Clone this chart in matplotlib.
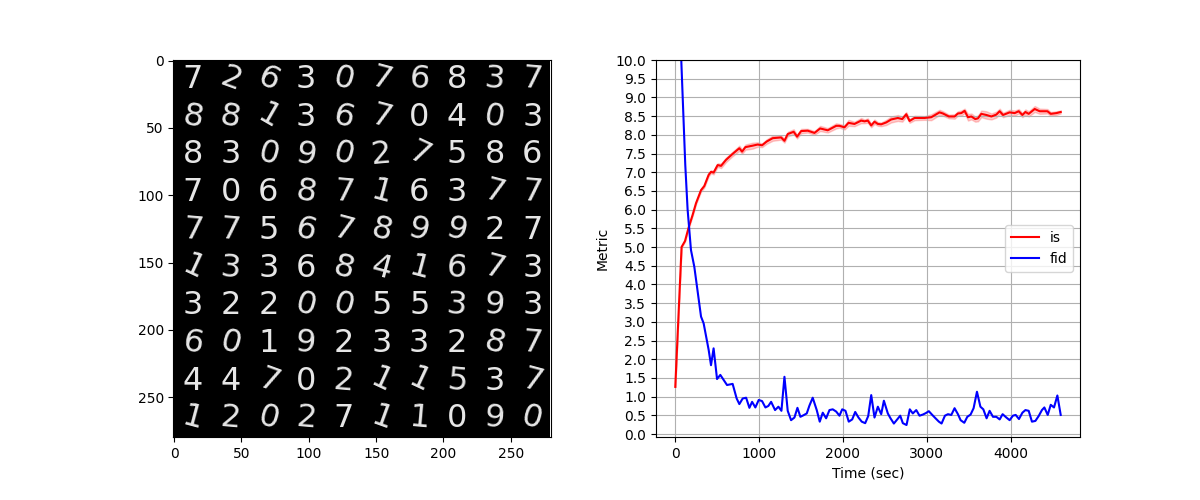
import numpy as np
import matplotlib
matplotlib.use("Agg")
import matplotlib.pyplot as plt

# grid of generated samples, row by row
digits = [
    "7263076837",
    "8813670403",
    "8309027586",
    "7068716377",
    "7756789927",
    "1336841673",
    "3220055393",
    "6019233287",
    "4470211537",
    "1202711090",
]
tilts = [
    [0, -20, -25, 0, -15, -15, -5, 0, -5, -5],
    [-10, -10, -30, 0, -15, -15, 0, 0, -10, 0],
    [0, 0, -15, -10, -15, 5, -25, 0, 0, 0],
    [0, 0, 0, -10, -5, -15, 0, 0, -15, -5],
    [-5, -5, 0, -15, -15, -15, -15, -15, 0, 0],
    [-25, -5, 0, 0, -15, -15, -15, -5, -15, 0],
    [0, 0, 0, -15, -15, 0, 0, -5, -5, 0],
    [-10, -15, 0, -5, 0, 0, 0, 0, -15, -5],
    [0, 0, -20, 0, -5, -25, -25, -5, 0, -15],
    [-15, -5, -15, -5, 0, -20, -5, 0, -5, -15],
]

is_time = [0, 75, 116, 159, 207, 247, 307, 346, 398, 426, 457, 505, 546, 605, 684, 764, 797, 836,
           923, 983, 1035, 1090, 1162, 1262, 1302, 1341, 1412, 1453, 1501, 1580, 1660, 1728, 1818,
           1919, 1958, 2018, 2066, 2137, 2217, 2257, 2296, 2337, 2376, 2416, 2456, 2515, 2575, 2654,
           2707, 2755, 2794, 2854, 2973, 3053, 3152, 3192, 3263, 3331, 3371, 3411, 3451, 3491, 3531,
           3578, 3610, 3650, 3710, 3770, 3829, 3869, 3909, 3988, 4048, 4096, 4140, 4176, 4215, 4287,
           4346, 4438, 4478, 4546, 4597]
is_mean = [1.26, 5.0, 5.16, 5.52, 5.86, 6.17, 6.52, 6.63, 6.93, 7.01, 6.99, 7.19, 7.17, 7.33, 7.49,
           7.64, 7.55, 7.67, 7.71, 7.74, 7.72, 7.82, 7.91, 7.93, 7.84, 8.02, 8.08, 7.95, 8.10, 8.11,
           8.05, 8.17, 8.12, 8.24, 8.24, 8.20, 8.32, 8.29, 8.38, 8.36, 8.38, 8.25, 8.35, 8.29, 8.28,
           8.33, 8.41, 8.45, 8.42, 8.55, 8.37, 8.45, 8.45, 8.47, 8.60, 8.57, 8.49, 8.49, 8.57, 8.58,
           8.64, 8.47, 8.49, 8.42, 8.44, 8.56, 8.53, 8.49, 8.54, 8.63, 8.53, 8.60, 8.58, 8.63, 8.53,
           8.61, 8.56, 8.69, 8.63, 8.63, 8.56, 8.58, 8.61]
is_std = [0.01, 0.02, 0.02, 0.03, 0.03, 0.03, 0.04, 0.04, 0.04, 0.04, 0.05, 0.05, 0.06, 0.06, 0.06,
          0.07, 0.06, 0.07, 0.08, 0.06, 0.05, 0.06, 0.07, 0.06, 0.05, 0.06, 0.07, 0.05, 0.06, 0.05,
          0.05, 0.07, 0.06, 0.07, 0.05, 0.06, 0.08, 0.06, 0.07, 0.05, 0.06, 0.05, 0.06, 0.05, 0.05,
          0.07, 0.08, 0.08, 0.07, 0.06, 0.05, 0.06, 0.05, 0.08, 0.07, 0.06, 0.05, 0.06, 0.06, 0.07,
          0.06, 0.09, 0.08, 0.07, 0.08, 0.09, 0.10, 0.08, 0.08, 0.07, 0.06, 0.07, 0.07, 0.06, 0.06,
          0.07, 0.07, 0.08, 0.07, 0.06, 0.05, 0.05, 0.04]

fid_time = [0, 119, 147, 187, 227, 307, 338, 398, 426, 457, 498, 537, 617, 684, 732, 764, 804, 845,
            884, 916, 955, 995, 1035, 1075, 1110, 1143, 1190, 1230, 1266, 1302, 1341, 1381, 1421,
            1457, 1492, 1528, 1568, 1600, 1639, 1687, 1723, 1759, 1799, 1839, 1878, 1919, 1958, 1991,
            2030, 2069, 2110, 2146, 2185, 2224, 2265, 2301, 2337, 2376, 2416, 2456, 2488, 2535, 2567,
            2607, 2647, 2683, 2714, 2758, 2797, 2833, 2874, 2913, 2953, 2989, 3024, 3065, 3104, 3144,
            3176, 3216, 3252, 3292, 3331, 3371, 3403, 3447, 3483, 3522, 3558, 3598, 3639, 3674, 3713,
            3749, 3789, 3829, 3869, 3904, 3949, 3988, 4027, 4060, 4099, 4140, 4176, 4215, 4254, 4295,
            4334, 4373, 4402, 4442, 4478, 4517, 4557, 4597]
fid = [14.2, 7.2, 6.0, 4.92, 4.47, 3.14, 2.96, 2.25, 1.84, 2.29, 1.47, 1.58, 1.31, 1.34, 0.95, 0.80,
       0.95, 0.97, 0.70, 0.86, 0.71, 0.91, 0.88, 0.71, 0.75, 0.86, 0.64, 0.73, 0.62, 1.53, 0.62, 0.37,
       0.44, 0.70, 0.46, 0.50, 0.55, 0.76, 0.97, 0.64, 0.33, 0.57, 0.42, 0.64, 0.66, 0.60, 0.49, 0.66,
       0.62, 0.33, 0.39, 0.59, 0.44, 0.33, 0.29, 0.48, 1.04, 0.44, 0.73, 0.53, 0.89, 0.55, 0.42, 0.28,
       0.39, 0.49, 0.29, 0.24, 0.66, 0.55, 0.64, 0.49, 0.52, 0.56, 0.61, 0.51, 0.42, 0.33, 0.28, 0.49,
       0.53, 0.51, 0.69, 0.53, 0.37, 0.30, 0.46, 0.52, 0.69, 1.13, 0.73, 0.66, 0.42, 0.62, 0.46, 0.46,
       0.39, 0.53, 0.44, 0.37, 0.49, 0.51, 0.40, 0.57, 0.64, 0.62, 0.33, 0.35, 0.48, 0.64, 0.71, 0.51,
       0.78, 0.71, 1.03, 0.51]

fig = plt.figure(figsize=(12, 5), dpi=100)
ax_img = fig.add_axes([173 / 1200, 63 / 500, 378 / 1200, 377 / 500])
ax = fig.add_axes([656 / 1200, 63 / 500, 424 / 1200, 377 / 500])

# black canvas with one digit per 28x28 cell
ax_img.imshow(np.zeros((280, 280)), cmap="gray", vmin=0, vmax=1)
for row, (line, angles) in enumerate(zip(digits, tilts)):
    for col, (digit, angle) in enumerate(zip(line, angles)):
        ax_img.text(28 * col + 14, 28 * row + 14, digit, color="#e6e6e6", fontsize=23,
                    rotation=angle, ha="center", va="center", rotation_mode="anchor")
ax_img.set_xticks(range(0, 300, 50))
ax_img.set_yticks(range(0, 300, 50))

is_mean = np.array(is_mean)
is_std = np.array(is_std)
ax.plot(is_time, is_mean, color="red", label="is")
ax.fill_between(is_time, is_mean - is_std, is_mean + is_std, color="red", alpha=0.2)
ax.plot(fid_time, fid, color="blue", label="fid")
ax.set_xlim(-230, 4827)
ax.set_ylim(-0.08, 10)
ax.set_yticks(np.arange(0, 10.5, 0.5))
ax.set_xlabel("Time (sec)")
ax.set_ylabel("Metric")
ax.grid(True)
ax.legend(loc="center right")

fig.savefig("out.png", dpi=100)
